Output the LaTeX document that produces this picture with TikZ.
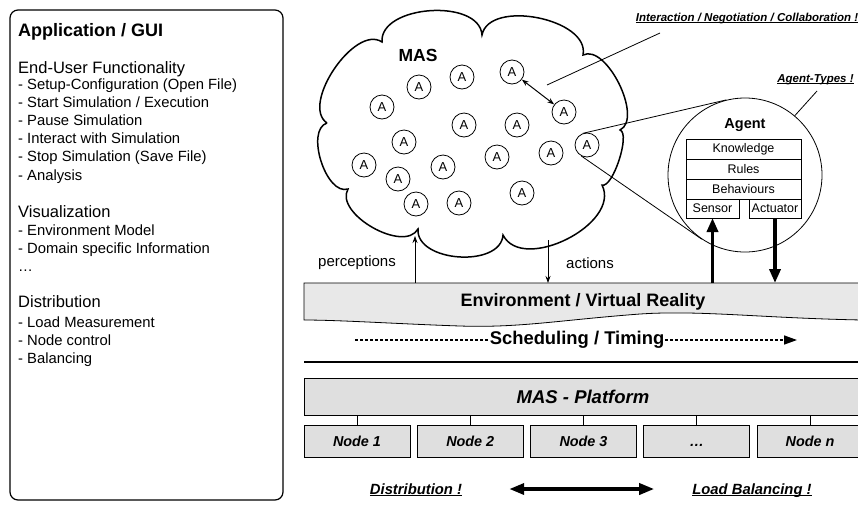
\documentclass[tikz,border=0pt]{standalone}
\usepackage{fontspec}
\setmainfont{Liberation Sans}
\usepackage{tikz}
\usetikzlibrary{positioning,arrows.meta}
\newcommand{\remarkul}[1]{\setbox0\hbox{#1}\rlap{\rule[-2.2pt]{\wd0}{0.09em}}\box0}
\tikzstyle{guititle}  = [anchor=base west, inner sep=0pt, font=\fontsize{18}{22}\selectfont\bfseries]
\tikzstyle{guihead}   = [anchor=base west, inner sep=0pt, font=\fontsize{16.5}{20}\selectfont]
\tikzstyle{guiitem}   = [anchor=base west, inner sep=0pt, font=\fontsize{14.8}{18}\selectfont]
\tikzstyle{agent}     = [draw, circle, line width=0.8pt, minimum size=24pt, inner sep=0pt, font=\fontsize{13}{13}\selectfont]
\tikzstyle{partbox}   = [draw, line width=0.8pt, minimum width=115pt, minimum height=20pt, inner sep=0pt, outer sep=0pt, font=\fontsize{12.5}{13}\selectfont]
\tikzstyle{platbox}   = [draw, line width=0.9pt, fill=gray!25, minimum width=558pt, minimum height=37pt, font=\fontsize{18.5}{20}\selectfont\bfseries\itshape]
\tikzstyle{nodebox}   = [draw, line width=0.9pt, fill=gray!25, minimum width=106pt, minimum height=32pt, inner sep=0pt, text height=10.4pt, text depth=0pt, font=\fontsize{14.4}{15}\selectfont\bfseries\itshape]
\tikzstyle{remark}    = [anchor=base, inner sep=0pt, font=\fontsize{14.8}{16}\selectfont\bfseries\itshape]
\tikzstyle{smallremark} = [anchor=base, inner sep=0pt, font=\fontsize{11.5}{13}\selectfont\bfseries\itshape]
\tikzstyle{plain}     = [inner sep=0pt, font=\fontsize{15}{16}\selectfont]
\tikzstyle{arrow}     = [line width=0.8pt, -{Stealth[length=7pt,width=5pt]}]
\tikzstyle{fatarrow}  = [line width=3.5pt, -{Triangle[length=14pt,width=11pt]}]
\tikzstyle{schedline} = [line width=1.5pt, densely dashed]

\begin{document}
\begin{tikzpicture}[x=1pt,y=-1pt]
		\useasboundingbox (0,0) rectangle (858,504);

		% application / gui
		\draw[rounded corners=8pt, line width=1.2pt] (10,10) rectangle (283,500);
		\node[guititle] (guititle) at (18,36.5) {Application / GUI};
		\node[guihead] (funchead) at (18,73) {End-User Functionality};
		\foreach \y/\t in {89.5/{- Setup-Configuration (Open File)}, 107.6/{- Start Simulation / Execution},
			125.7/{- Pause Simulation}, 143.8/{- Interact with Simulation}, 161.9/{- Stop Simulation (Save File)},
			180/{- Analysis}}
			\node[guiitem] at (18,\y) {\t};
		\node[guihead] (vishead) at (18,217) {Visualization};
		\node[guiitem] at (18,235.2) {- Environment Model};
		\node[guiitem] at (18,253.3) {- Domain specific Information};
		\node[guiitem] at (18,271) {…};
		\node[guihead] (disthead) at (18,307.7) {Distribution};
		\foreach \y/\t in {327/{- Load Measurement}, 345.2/{- Node control}, 363.4/{- Balancing}}
			\node[guiitem] at (18,\y) {\t};

		% mas cloud
		\draw[line width=1.5pt] (327,123) to[bend left=90, looseness=0.85] (382,42)
			to[bend left=90, looseness=0.95] (482,35)
			to[bend left=90, looseness=0.92] (583,55)
			to[bend left=90, looseness=0.8] (620,130)
			to[bend left=90, looseness=0.5] (602,185)
			to[bend left=90, looseness=1.0] (503,235)
			to[bend left=90, looseness=1.0] (418,229)
			to[bend left=90, looseness=0.9] (348,189)
			to[bend left=90, looseness=0.85] (327,123);
		\node[font=\fontsize{17.5}{18}\selectfont\bfseries] (mas) at (418,55) {MAS};

		\foreach \n/\x/\y in {1/512/72, 2/462/77, 3/419/87, 4/382/107, 5/564/112, 6/464/125,
			7/517/125, 8/404/142, 9/587/145, 10/551/153, 11/497/157, 12/364/165, 13/443/167,
			14/398/179, 15/522/193, 16/416/204, 17/459/203}
			\node[agent] (a\n) at (\x,\y) {A};
		\draw[line width=1pt, {Stealth[length=7pt,width=5pt]}-{Stealth[length=7pt,width=5pt]}] (a1) -- (a5);

		% interaction remark
		\node[smallremark] (interlbl) at (747,21) {\remarkul{Interaction / Negotiation / Collaboration !}};
		\coordinate (interA) at (660,33);
		\coordinate (interB) at (547,85);
		\draw[line width=0.8pt] (interA) -- (interB);

		% agent zoom
		\node[draw, circle, line width=0.8pt, minimum size=154pt] (agent) at (745,175) {};
		\node[font=\fontsize{14.5}{15}\selectfont\bfseries] (agentlbl) at (745,125) {Agent};
		\node[partbox] (know) at (743.5,149) {Knowledge};
		\node[partbox, below=0pt of know] (rules) {Rules};
		\node[partbox, below=0pt of rules] (beh) {Behaviours};
		\node[partbox, minimum width=53pt, minimum height=19pt, anchor=north west] (sensor) at (beh.south west) {Sensor};
		\node[partbox, minimum width=52pt, minimum height=19pt, anchor=north east] (actuator) at (beh.south east) {Actuator};
		\draw[line width=0.8pt] (a9.110) -- (agent.104);
		\draw[line width=0.8pt] (a9.243) -- (agent.236);

		\node[smallremark] (typeslbl) at (815.5,82) {\remarkul{Agent-Types !}};
		\coordinate (typesend) at (817,91);
		\draw[line width=0.8pt] (typesend) -- (agent.50);

		% environment
		\draw[line width=0.8pt, fill=gray!18] (304,283) -- (862,283) -- (862,320)
			.. controls (760,318) and (700,310) .. (640,314)
			.. controls (560,320) and (520,328) .. (460,326)
			.. controls (400,324) and (340,320) .. (304,320) -- cycle;
		\node[font=\fontsize{18}{20}\selectfont\bfseries] (env) at (583,302) {Environment / Virtual Reality};
		\coordinate (envtop) at (583,283);
		\coordinate (cloudL) at (415,236);
		\coordinate (cloudR) at (548,240);
		\draw[arrow] (cloudL |- envtop) -- (cloudL);
		\draw[arrow] (cloudR) -- (cloudR |- envtop);
		\node[plain] (perc) at (357,263) {perceptions};
		\node[plain] (act) at (590,263) {actions};
		\draw[fatarrow] (sensor.south |- envtop) -- (sensor.south);
		\draw[fatarrow] (actuator.south) -- (actuator.south |- envtop);

		% scheduling
		\node[inner sep=1pt, font=\fontsize{18.4}{20}\selectfont\bfseries] (sched) at (577,340) {Scheduling / Timing};
		\coordinate (schedstart) at (355,340);
		\coordinate (schedend) at (797,340);
		\draw[schedline] (schedstart) -- (sched.west);
		\draw[schedline, -{Triangle[length=13pt,width=9pt]}] (sched.east) -- (schedend);
		\draw[line width=2pt] (304,362) -- (862,362);

		% platform
		\node[platbox] (plat) at (583,396.5) {MAS - Platform};
		\foreach \i/\t in {1/Node 1, 2/Node 2, 3/Node 3, 4/\ldots, 5/Node n} {
			\node[nodebox] (n\i) at ({357+113.25*(\i-1)},441) {\t};
			\draw[line width=0.8pt] (plat.south -| n\i) -- (n\i.north);
		}

		\node[remark] (dist) at (416,494) {\remarkul{Distribution !}};
		\node[remark] (load) at (752,494) {\remarkul{Load Balancing !}};
		\coordinate (distarrow) at (462,489);
		\draw[line width=3.5pt, {Triangle[length=15pt,width=11pt]}-{Triangle[length=15pt,width=11pt]}, shorten <=47pt, shorten >=38pt] (dist.east |- distarrow) -- (load.west |- distarrow);
	\end{tikzpicture}
\end{document}
